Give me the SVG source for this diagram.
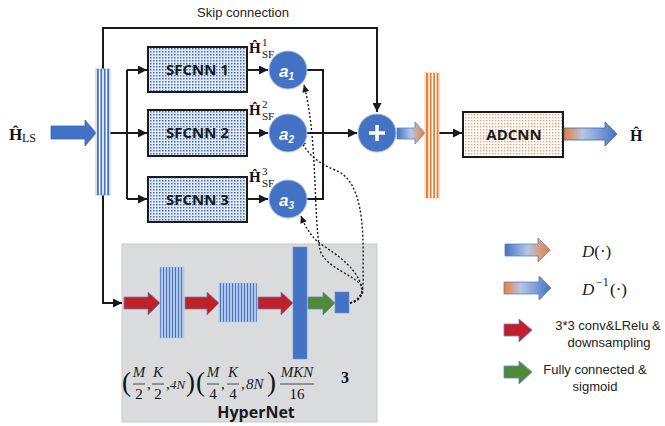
<svg xmlns="http://www.w3.org/2000/svg" width="665" height="426" viewBox="0 0 665 426">
<defs>
<style>
.ln{fill:none;stroke:#1a1a1a;stroke-width:2}
.dt{fill:none;stroke:#1a1a1a;stroke-width:1.4;stroke-dasharray:2,2}
.bx{stroke:#1a1a1a;stroke-width:2}
.lbl{font-family:"Open Sans","Liberation Sans",sans-serif;font-weight:bold;font-size:15px;fill:#1a1a1a;text-anchor:middle}
.cir{fill:#4472c4;stroke:#a9bcdf;stroke-width:1}
.al{font-family:"Liberation Sans",sans-serif;font-style:italic;font-weight:bold;fill:#fff;font-size:17px}
.sf{font-family:"Liberation Sans",sans-serif;font-size:13px;fill:#222}
.sr{font-family:"Liberation Serif",serif;fill:#111}
.mi{font-family:"Liberation Serif",serif;font-style:italic;fill:#222;font-size:15px}
.red{fill:#c0202a;stroke:#6d84b8;stroke-width:0.8}
.grn{fill:#4f8a3a;stroke:#6d84b8;stroke-width:0.8}
.bstr{fill:#4472c4}
.ostr{fill:#ed7d31}
</style>
<pattern id="pb" width="3" height="3" patternUnits="userSpaceOnUse">
<rect width="3" height="3" fill="#e3ebf7"/>
<rect width="1.5" height="1.5" fill="#3f6cc0"/>
</pattern>
<pattern id="po" width="3" height="3" patternUnits="userSpaceOnUse">
<rect width="3" height="3" fill="#fff"/>
<rect width="1.4" height="1.4" fill="#f2a36e"/>
</pattern>
<pattern id="sb1" width="3" height="10" patternUnits="userSpaceOnUse">
<rect width="3" height="10" fill="#fff"/>
<rect x="0.6" width="1.8" height="10" fill="#4472c4"/>
</pattern>
<linearGradient id="gBO" x1="0" y1="0" x2="1" y2="0">
<stop offset="0" stop-color="#4472c4"/>
<stop offset="0.5" stop-color="#b4c7e7"/>
<stop offset="1" stop-color="#ed7d31"/>
</linearGradient>
<linearGradient id="gOB" x1="0" y1="0" x2="1" y2="0">
<stop offset="0" stop-color="#ed7d31"/>
<stop offset="0.35" stop-color="#b4c7e7"/>
<stop offset="1" stop-color="#4472c4"/>
</linearGradient>
<marker id="ar" viewBox="0 0 10 10" refX="10" refY="5" markerWidth="10" markerHeight="9" markerUnits="userSpaceOnUse" orient="auto">
<path d="M0,0 L10,5 L0,10 z" fill="#1a1a1a"/>
</marker>
<marker id="ad" viewBox="0 0 10 10" refX="10" refY="5" markerWidth="8" markerHeight="7" markerUnits="userSpaceOnUse" orient="auto">
<path d="M0,0 L10,5 L0,10 z" fill="#1a1a1a"/>
</marker>
</defs>
<rect width="665" height="426" fill="#fff"/>

<!-- HyperNet background -->
<g id="hypernet">
<rect x="122" y="244" width="255" height="178" fill="#dadbdd" stroke="#c8c9cb" stroke-width="1"/>
<text x="256" y="418" class="lbl" style="font-size:16px">HyperNet</text>
</g>

<!-- connectors -->
<g id="connectors">
<path class="ln" d="M103,69 V28 H377 V112" marker-end="url(#ar)"/>
<path class="ln" d="M103,195 V303 H122" marker-end="url(#ar)"/>
<path class="ln" d="M110,133 H127"/>
<path class="ln" d="M127,70 V199"/>
<path class="ln" d="M127,70 H147" marker-end="url(#ar)"/>
<path class="ln" d="M127,133 H147" marker-end="url(#ar)"/>
<path class="ln" d="M127,199 H147" marker-end="url(#ar)"/>
<path class="ln" d="M247,70 H268" marker-end="url(#ar)"/>
<path class="ln" d="M247,133 H268" marker-end="url(#ar)"/>
<path class="ln" d="M247,199 H268" marker-end="url(#ar)"/>
<path class="ln" d="M307,70 H323 V199 H307"/>
<path class="ln" d="M307,133 H357" marker-end="url(#ar)"/>
<path class="ln" d="M439,133 H462" marker-end="url(#ar)"/>
<path class="dt" d="M350,303 C360,300 365,293 362,287 C356,275 325,268 320,250 C313,215 318,140 304,85" marker-end="url(#ad)"/>
<path class="dt" d="M350,303 C362,299 364,290 363,270 C364,225 362,180 335,170 C318,163 308,155 300,139" marker-end="url(#ad)"/>
<path class="dt" d="M350,303 C362,301 364,292 360,282 C352,263 332,252 318,242 C310,235 305,226 301,216" marker-end="url(#ad)"/>
</g>

<!-- input -->
<g id="input">
<text x="9" y="140" class="sr" style="font-size:17px;font-weight:bold">Ĥ</text>
<text x="22" y="142" class="sr" style="font-size:12px">LS</text>
<polygon points="51,126 85,126 85,120 96,133 85,146 85,139 51,139" fill="#4472c4" stroke="#3a62ad" stroke-width="0.8"/>
</g>
<g id="inbar">
<rect x="96" y="69" width="14" height="126" fill="#fff" stroke="#b4c7e7" stroke-width="1"/>
<rect x="97" y="69" width="1.8" height="126" class="bstr"/>
<rect x="100.4" y="69" width="1.8" height="126" class="bstr"/>
<rect x="103.8" y="69" width="1.8" height="126" class="bstr"/>
<rect x="107.2" y="69" width="1.8" height="126" class="bstr"/>
</g>

<text x="243" y="17" class="sf" text-anchor="middle">Skip connection</text>

<g id="sfcnn1"><rect x="148" y="47" width="99" height="45" fill="url(#pb)" class="bx"/><text x="197.5" y="75" class="lbl">SFCNN 1</text></g>
<g id="sfcnn2"><rect x="148" y="110" width="99" height="46" fill="url(#pb)" class="bx"/><text x="197.5" y="138" class="lbl">SFCNN 2</text></g>
<g id="sfcnn3"><rect x="148" y="177" width="99" height="45" fill="url(#pb)" class="bx"/><text x="197.5" y="205" class="lbl">SFCNN 3</text></g>

<g id="hsf1"><text x="249" y="53" class="sr" style="font-size:15px;font-weight:bold">Ĥ</text><text x="262" y="46" class="sr" style="font-size:11px">1</text><text x="262" y="58" class="sr" style="font-size:11px">SF</text></g>
<g id="hsf2"><text x="249" y="115" class="sr" style="font-size:15px;font-weight:bold">Ĥ</text><text x="262" y="108" class="sr" style="font-size:11px">2</text><text x="262" y="120" class="sr" style="font-size:11px">SF</text></g>
<g id="hsf3"><text x="249" y="182" class="sr" style="font-size:15px;font-weight:bold">Ĥ</text><text x="262" y="175" class="sr" style="font-size:11px">3</text><text x="262" y="187" class="sr" style="font-size:11px">SF</text></g>

<g id="a1"><circle cx="288" cy="70" r="19" class="cir"/><text x="279" y="77" class="al">a<tspan font-size="10" dy="3">1</tspan></text></g>
<g id="a2"><circle cx="288" cy="133" r="19" class="cir"/><text x="279" y="140" class="al">a<tspan font-size="10" dy="3">2</tspan></text></g>
<g id="a3"><circle cx="288" cy="199" r="19" class="cir"/><text x="279" y="206" class="al">a<tspan font-size="10" dy="3">3</tspan></text></g>

<g id="plus"><circle cx="377" cy="133" r="19" class="cir"/><path d="M369,133 H385 M377,125 V141" stroke="#fff" stroke-width="3.5" fill="none"/></g>

<g id="arrowD"><polygon points="397,128 415,128 415,122 425,133 415,144 415,139 397,139" fill="url(#gBO)" stroke="#5b7fc4" stroke-width="0.8"/></g>

<g id="orangebar">
<rect x="425" y="73" width="14" height="125" fill="#fff" stroke="#f4c6a4" stroke-width="1"/>
<rect x="426" y="73" width="2.2" height="125" class="ostr"/>
<rect x="429.8" y="73" width="1.8" height="125" class="ostr"/>
<rect x="433.2" y="73" width="1.8" height="125" class="ostr"/>
<rect x="436.6" y="73" width="1.8" height="125" class="ostr"/>
</g>

<g id="adcnn"><rect x="463" y="112" width="100" height="45" fill="url(#po)" class="bx"/><text x="514" y="140" class="lbl">ADCNN</text></g>

<g id="output">
<polygon points="564,128 605,128 605,122 617,134 605,146 605,140 564,140" fill="url(#gOB)" stroke="#3a62ad" stroke-width="0.8"/>
<text x="630" y="141" class="sr" style="font-size:16px;font-weight:bold">Ĥ</text>
</g>

<!-- HyperNet content -->
<g id="hn-layers">
<polygon points="124,297 148,297 148,292 160,303 148,315 148,309 124,309" class="red"/>
<rect x="160" y="267" width="24" height="71" fill="url(#sb1)" stroke="#b4c7e7" stroke-width="0.6"/>
<polygon points="185,297 207,297 207,292 219,303 207,315 207,309 185,309" class="red"/>
<rect x="219" y="283" width="38" height="39" fill="url(#sb1)" stroke="#b4c7e7" stroke-width="0.6"/>
<polygon points="258,297 281,297 281,292 293,303 281,315 281,309 258,309" class="red"/>
<rect x="293" y="247" width="14" height="112" fill="#4472c4" stroke="#6d8fcf" stroke-width="0.6"/>
<polygon points="308,297 323,297 323,292 335,303 323,315 323,309 308,309" class="grn"/>
<rect x="335" y="292" width="14" height="21" fill="#4472c4" stroke="#6d8fcf" stroke-width="0.6"/>
</g>

<g id="formula">
<text x="122" y="391" class="sr" style="font-size:27px">(</text>
<text x="139" y="377" class="mi" text-anchor="middle">M</text>
<line x1="133" y1="384" x2="145" y2="384" stroke="#222" stroke-width="0.8"/>
<text x="139" y="399" class="sr" style="font-size:15px" text-anchor="middle">2</text>
<text x="147" y="389" class="sr" style="font-size:15px">,</text>
<text x="158" y="377" class="mi" text-anchor="middle">K</text>
<line x1="152" y1="384" x2="164" y2="384" stroke="#222" stroke-width="0.8"/>
<text x="158" y="399" class="sr" style="font-size:15px" text-anchor="middle">2</text>
<text x="166" y="389" class="sr" style="font-size:15px">,</text>
<text x="170" y="389" class="mi" style="font-size:13px">4N</text>
<text x="186" y="391" class="sr" style="font-size:27px">)</text>
<text x="196" y="391" class="sr" style="font-size:27px">(</text>
<text x="213" y="377" class="mi" text-anchor="middle">M</text>
<line x1="207" y1="384" x2="219" y2="384" stroke="#222" stroke-width="0.8"/>
<text x="213" y="399" class="sr" style="font-size:15px" text-anchor="middle">4</text>
<text x="221" y="389" class="sr" style="font-size:15px">,</text>
<text x="233" y="377" class="mi" text-anchor="middle">K</text>
<line x1="227" y1="384" x2="239" y2="384" stroke="#222" stroke-width="0.8"/>
<text x="233" y="399" class="sr" style="font-size:15px" text-anchor="middle">4</text>
<text x="241" y="389" class="sr" style="font-size:15px">,</text>
<text x="246" y="389" class="mi">8N</text>
<text x="267" y="391" class="sr" style="font-size:27px">)</text>
<text x="297" y="377" class="mi" text-anchor="middle">MKN</text>
<line x1="280" y1="384" x2="314" y2="384" stroke="#222" stroke-width="0.8"/>
<text x="297" y="399" class="sr" style="font-size:15px" text-anchor="middle">16</text>
<text x="345" y="383" class="sr" style="font-size:16px;font-weight:bold" text-anchor="middle">3</text>
</g>

<!-- legend -->
<g id="legD">
<polygon points="505,244 538,244 538,238 550,250 538,262 538,256 505,256" fill="url(#gBO)" stroke="#5b7fc4" stroke-width="0.8"/>
<text x="582" y="257" class="mi" style="font-size:17px">D<tspan font-style="normal">(·)</tspan></text>
</g>
<g id="legDinv">
<polygon points="504,282 539,282 539,276 551,288 539,300 539,294 504,294" fill="url(#gOB)" stroke="#5b7fc4" stroke-width="0.8"/>
<text x="582" y="295" class="mi" style="font-size:17px">D</text>
<text x="596" y="286" class="sr" style="font-size:12px">−1</text>
<text x="610" y="295" class="sr" style="font-size:17px">(·)</text>
</g>
<g id="legConv">
<polygon points="504,324 519,324 519,319 532,330 519,342 519,336 504,336" class="red"/>
<text x="608" y="330" class="sf" text-anchor="middle">3*3 conv&amp;LRelu &amp;</text>
<text x="609" y="347" class="sf" text-anchor="middle">downsampling</text>
</g>
<g id="legFc">
<polygon points="504,366 519,366 519,361 532,372 519,384 519,378 504,378" class="grn"/>
<text x="595" y="374" class="sf" text-anchor="middle">Fully connected &amp;</text>
<text x="595" y="391" class="sf" text-anchor="middle">sigmoid</text>
</g>
</svg>
